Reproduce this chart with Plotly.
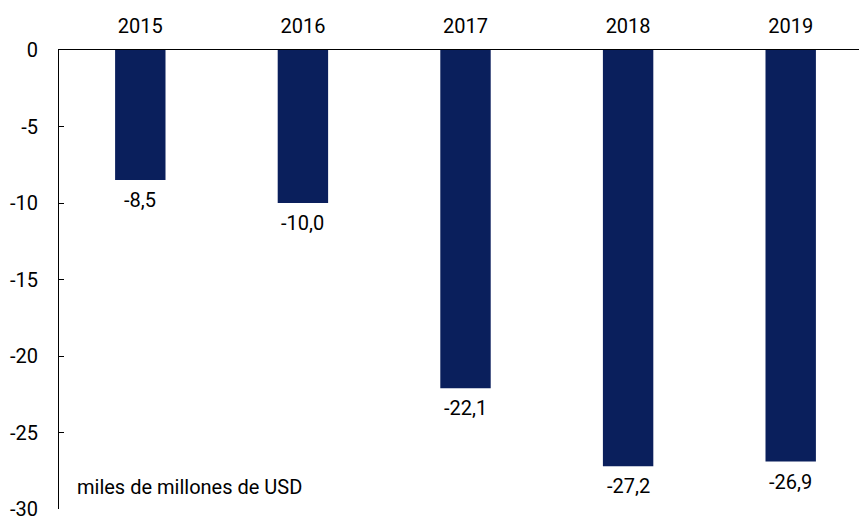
import plotly.graph_objects as go

years = ["2015", "2016", "2017", "2018", "2019"]
values = [-8.5, -10.0, -22.1, -27.2, -26.9]
ytick_vals = [0, -5, -10, -15, -20, -25, -30]
ytick_text = ["0", "-5", "-10", "-15", "-20", "-25", "-30"]
unit_label = "miles de millones de USD"

bar_color = "#0a1f5c"
font_family = "Roboto"
fs = 20

labels = [f"{v:.1f}".replace(".", ",") for v in values]

fig = go.Figure()
fig.add_trace(go.Bar(
    x=years, y=values,
    marker=dict(color=bar_color, line=dict(width=0)),
    width=0.31, hoverinfo="skip",
))

annotations = [dict(text=unit_label, xref="paper", yref="paper",
                    x=0.02, y=0.048, xanchor="left", yanchor="middle",
                    showarrow=False, font=dict(size=fs))]
for i, (v, lab) in enumerate(zip(values, labels)):
    annotations.append(dict(x=i, y=v, xref="x", yref="y", text=lab,
                            showarrow=False, xanchor="center", yanchor="top",
                            yshift=-6, font=dict(size=fs, color="black")))

fig.update_layout(
    width=859, height=519,
    margin=dict(l=59, r=0, t=50, b=10),
    paper_bgcolor="white", plot_bgcolor="white",
    font=dict(family=font_family, size=fs, color="black"),
    showlegend=False,
    xaxis=dict(type="category", side="top", showline=True, linecolor="black",
               linewidth=1, showgrid=False, zeroline=False, ticks="outside",
               ticklen=8, tickcolor="rgba(0,0,0,0)", range=[-0.5, 4.42],
               tickfont=dict(size=fs), automargin=False),
    yaxis=dict(range=[-30, 0], tickvals=ytick_vals, ticktext=ytick_text,
               showline=True, linecolor="black", linewidth=1,
               showgrid=False, zeroline=False, ticks="inside", ticklen=5,
               tickcolor="black", ticklabelstandoff=16,
               ticklabeloverflow="allow",
               tickfont=dict(size=fs), automargin=False),
    annotations=annotations,
)

fig.write_html("out.html", post_script="document.body.style.margin='0';",
               config={"displayModeBar": False})
